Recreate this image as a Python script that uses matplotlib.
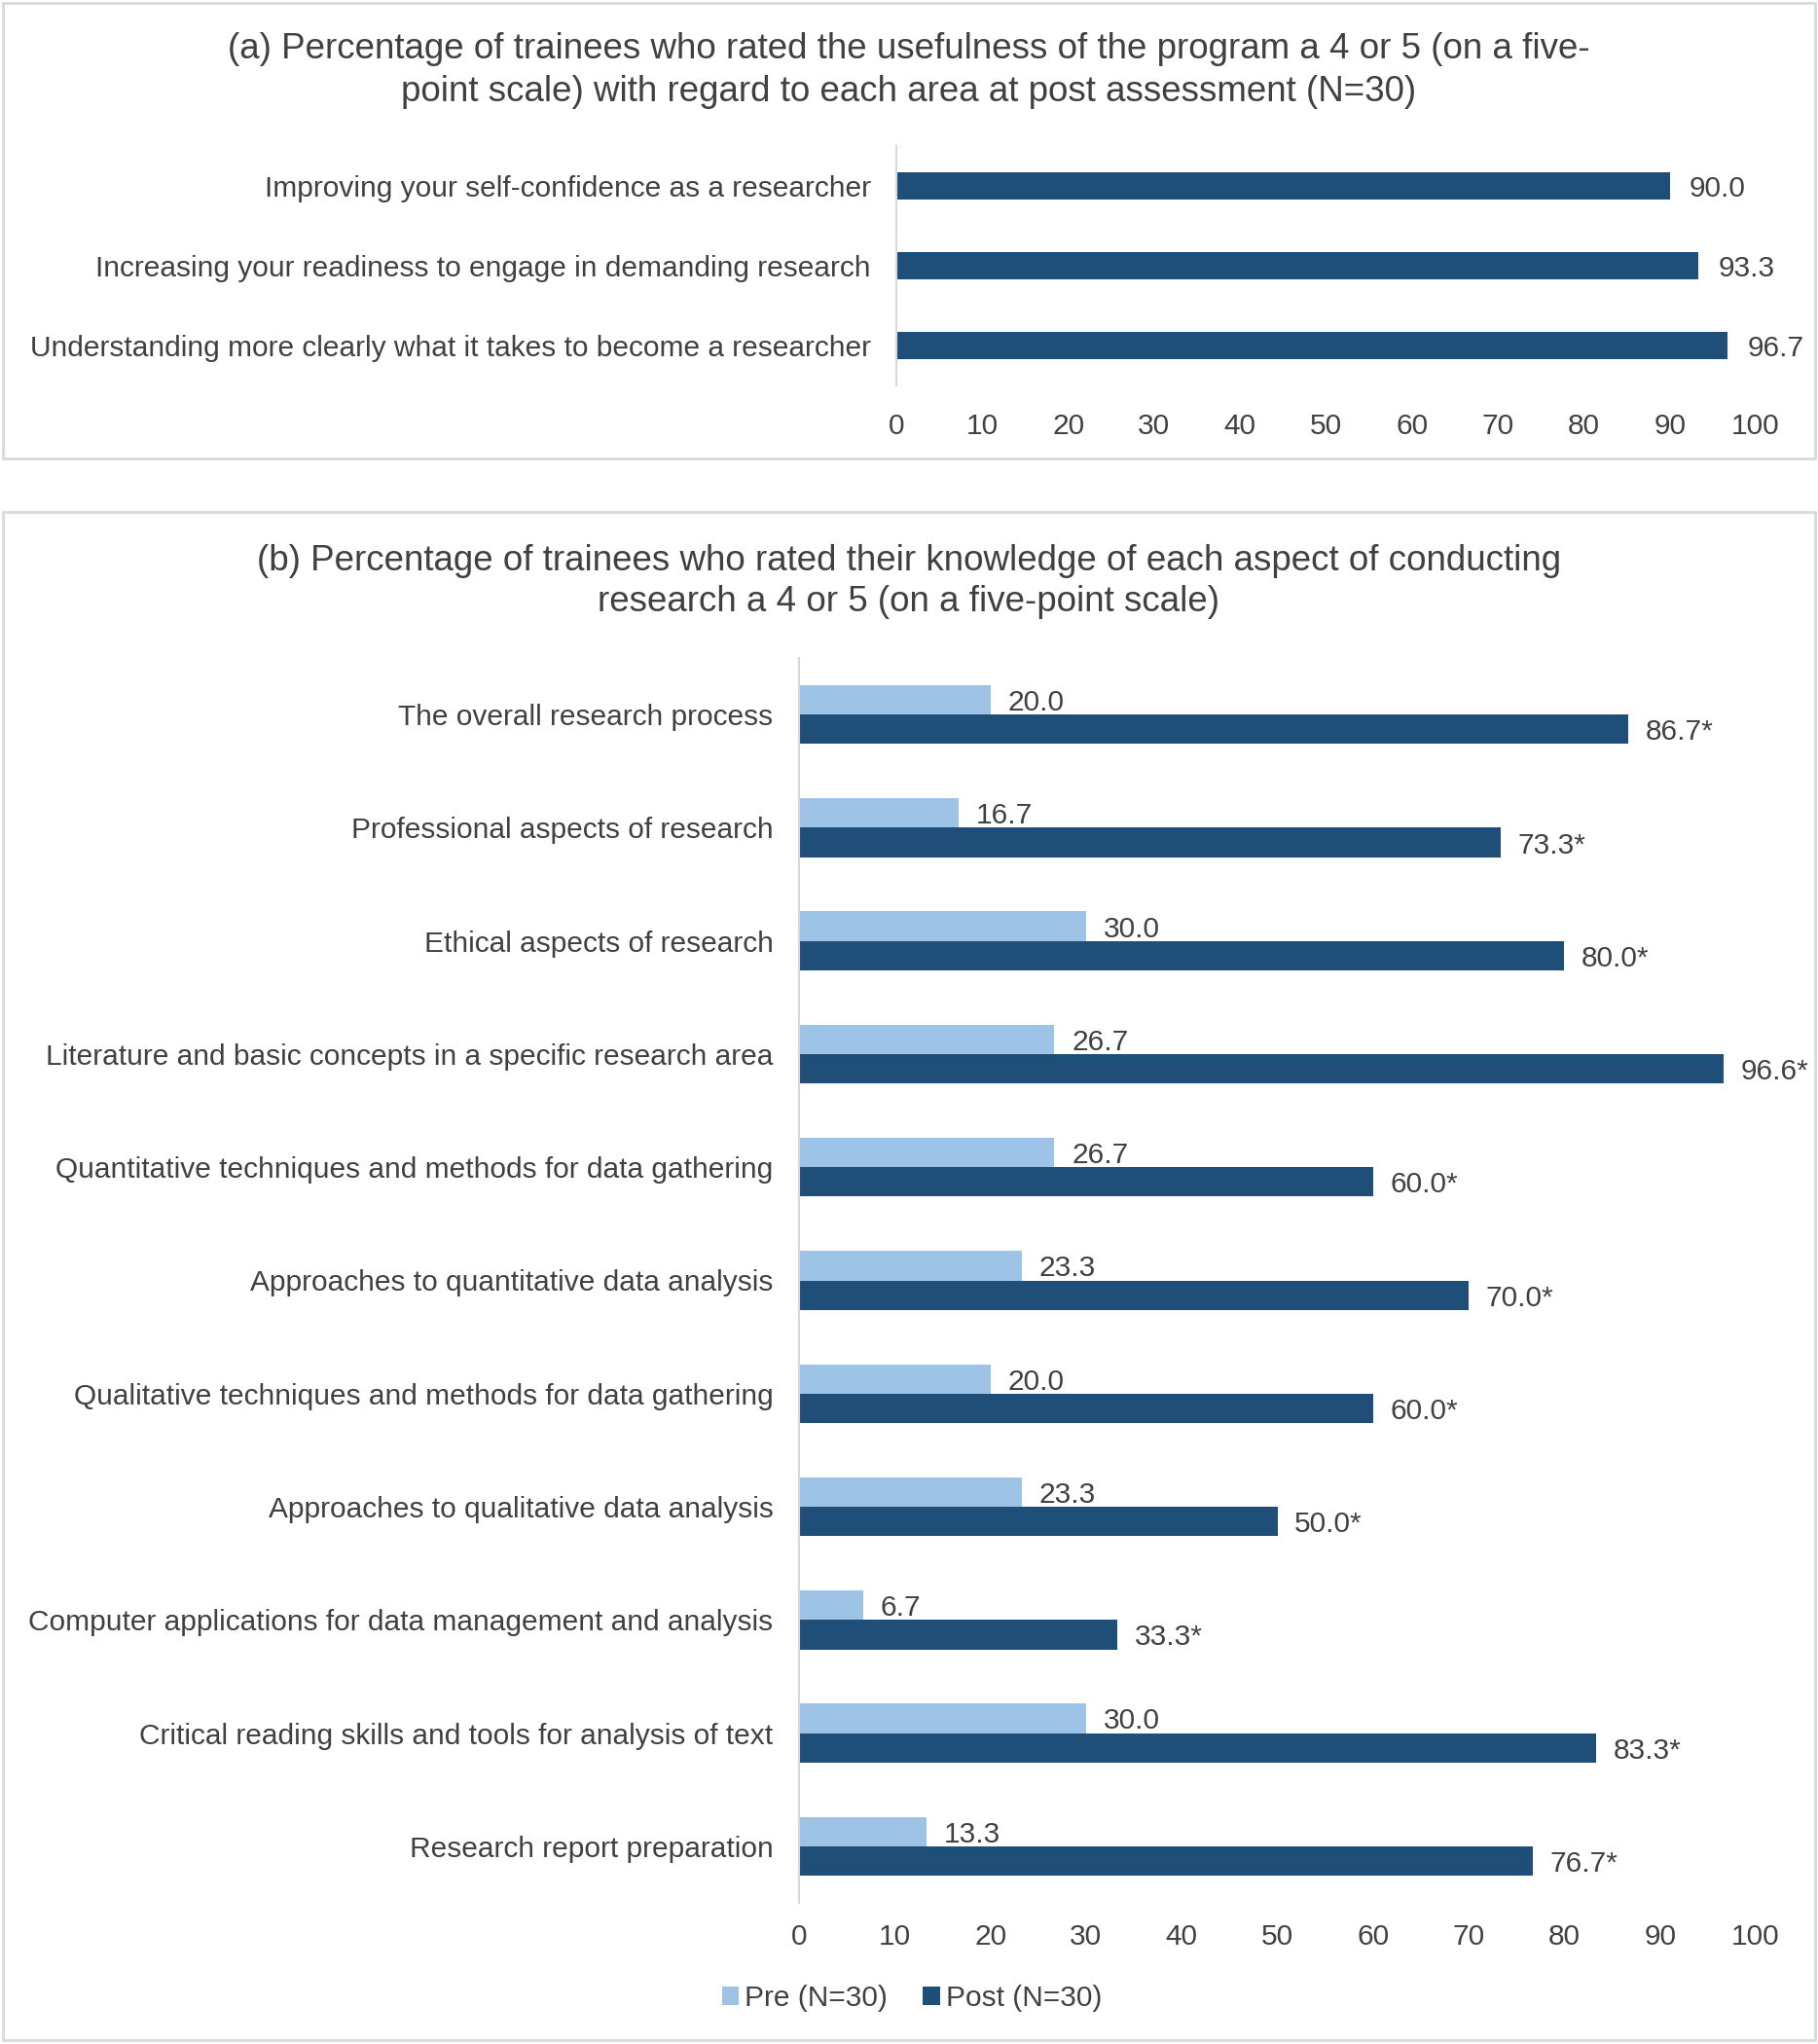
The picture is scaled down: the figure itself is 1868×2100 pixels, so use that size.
import numpy as np
import matplotlib.pyplot as plt
from matplotlib.patches import Rectangle

plt.rcParams['font.family'] = ['Liberation Sans', 'DejaVu Sans']

# panel (a)
areas = ["Improving your self-confidence as a researcher",
         "Increasing your readiness to engage in demanding research",
         "Understanding more clearly what it takes to become a researcher"]
useful = [90.0, 93.3, 96.7]

# panel (b)
aspects = ["The overall research process",
           "Professional aspects of research",
           "Ethical aspects of research",
           "Literature and basic concepts in a specific research area",
           "Quantitative techniques and methods for data gathering",
           "Approaches to quantitative data analysis",
           "Qualitative techniques and methods for data gathering",
           "Approaches to qualitative data analysis",
           "Computer applications for data management and analysis",
           "Critical reading skills and tools for analysis of text",
           "Research report preparation"]
pre = [20.0, 16.7, 30.0, 26.7, 26.7, 23.3, 20.0, 23.3, 6.7, 30.0, 13.3]
post = [86.7, 73.3, 80.0, 96.6, 60.0, 70.0, 60.0, 50.0, 33.3, 83.3, 76.7]
pre_lab = ["20.0", "16.7", "30.0", "26.7", "26.7", "23.3", "20.0", "23.3", "6.7", "30.0", "13.3"]
post_lab = ["86.7*", "73.3*", "80.0*", "96.6*", "60.0*", "70.0*", "60.0*", "50.0*", "33.3*", "83.3*", "76.7*"]

dark = '#1F4E79'
light = '#9DC3E6'
txt = '#404040'
fs = 21.5
tfs = 26.5

W, H = 1868, 2100
fig = plt.figure(figsize=(W/100, H/100), dpi=100)

def box(x0, y0, x1, y1):
    # pixel coords, y from top
    fig.patches.append(Rectangle((x0/W, 1-y1/H), (x1-x0)/W, (y1-y0)/H,
                                 transform=fig.transFigure, fill=False,
                                 edgecolor='#D9D9D9', lw=2))

def axes_px(x0, y0, x1, y1):
    return fig.add_axes([x0/W, 1-y1/H, (x1-x0)/W, (y1-y0)/H])

def style(ax, pad):
    ax.set_xlim(0, 100)
    ax.set_xticks(np.arange(0, 101, 10))
    for s in ['top', 'right', 'bottom']:
        ax.spines[s].set_visible(False)
    ax.spines['left'].set_color('#D9D9D9')
    ax.spines['left'].set_linewidth(1.5)
    ax.tick_params(axis='both', length=0, labelsize=fs, colors=txt)
    ax.tick_params(axis='x', pad=pad)
    ax.tick_params(axis='y', pad=19)

box(3, 3, 1865, 471)
box(3, 526, 1865, 2096)

fig.text(0.5, 1-51/H, "(a) Percentage of trainees who rated the usefulness of the program a 4 or 5 (on a five-",
         ha='center', va='center', fontsize=tfs, color=txt)
fig.text(0.5, 1-94/H, "point scale) with regard to each area at post assessment (N=30)",
         ha='center', va='center', fontsize=tfs, color=txt)

ax1 = axes_px(921, 150, 1804, 396)
y1 = np.arange(len(areas))
ax1.barh(y1, useful, height=0.33, color=dark)
for yi, v in zip(y1, useful):
    ax1.text(v + 2.3, yi, f"{v:.1f}", va='center_baseline', ha='left', fontsize=fs, color=txt)
ax1.set_yticks(y1)
ax1.set_yticklabels(areas)
ax1.set_ylim(2.5, -0.5)
style(ax1, 20)

fig.text(0.5, 1-576/H, "(b) Percentage of trainees who rated their knowledge of each aspect of conducting",
         ha='center', va='center', fontsize=tfs, color=txt)
fig.text(0.5, 1-619/H, "research a 4 or 5 (on a five-point scale)",
         ha='center', va='center', fontsize=tfs, color=txt)

ax2 = axes_px(821, 676, 1804, 1955)
y2 = np.arange(len(aspects))
h = 0.26
b1 = ax2.barh(y2 - h/2, pre, height=h, color=light, label='Pre (N=30)')
b2 = ax2.barh(y2 + h/2, post, height=h, color=dark, label='Post (N=30)')
for yi, v, s in zip(y2, pre, pre_lab):
    ax2.text(v + 1.8, yi - h/2, s, va='center_baseline', ha='left', fontsize=fs, color=txt)
for yi, v, s in zip(y2, post, post_lab):
    ax2.text(v + 1.8, yi + h/2, s, va='center_baseline', ha='left', fontsize=fs, color=txt)
ax2.set_yticks(y2)
ax2.set_yticklabels(aspects)
ax2.set_ylim(10.5, -0.5)
style(ax2, 15)

fig.legend(handles=[b1, b2], loc='center', bbox_to_anchor=(937/W, 1-2053/H), ncol=2,
           frameon=False, fontsize=fs, labelcolor=txt, handlelength=0.6, handleheight=0.6,
           handletextpad=0.2, columnspacing=1.2)

fig.savefig('out.png', dpi=100, facecolor='white')
